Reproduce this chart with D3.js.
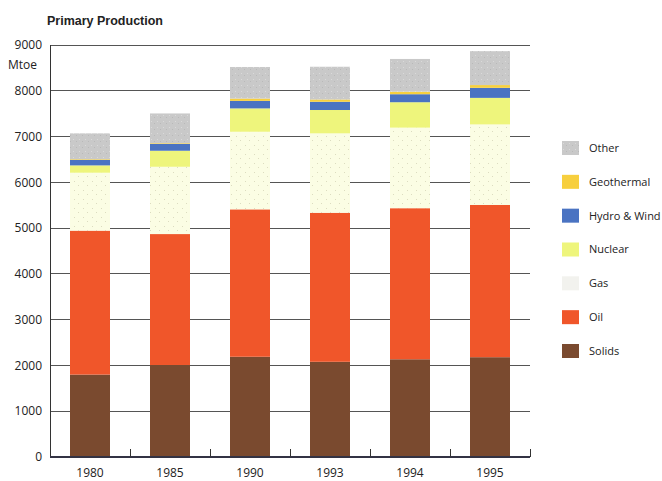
<!DOCTYPE html>
<html><head><meta charset="utf-8">
<script src="https://cdn.jsdelivr.net/npm/d3@7"></script>
<style>
html,body{margin:0;padding:0;background:#fff;}
svg{display:block;font-family:"Open Sans",sans-serif;}
</style></head>
<body><svg id="c" width="662" height="481"></svg>
<script>
const years = ["1980","1985","1990","1993","1994","1995"];
const solids = [1800, 2010, 2190, 2080, 2135, 2180];
const oil = [3145, 2860, 3220, 3255, 3300, 3325];
const gas = [1265, 1470, 1695, 1735, 1760, 1760];
const nuclear = [160, 350, 510, 510, 555, 580];
const hydroWind = [120, 150, 165, 180, 175, 220];
const geothermal = [15, 15, 50, 50, 55, 60];
const other = [565, 650, 690, 715, 715, 740];
const yTicks = [0,1000,2000,3000,4000,5000,6000,7000,8000,9000];
const seriesNames = ["Solids","Oil","Gas","Nuclear","Hydro & Wind","Geothermal","Other"];
const legendOrder = ["Other","Geothermal","Hydro & Wind","Nuclear","Gas","Oil","Solids"];

const seriesValues = [solids, oil, gas, nuclear, hydroWind, geothermal, other];
const table = years.map((yr,i)=>{
  const row = {year: yr};
  seriesNames.forEach((k,j)=> row[k] = seriesValues[j][i]);
  return row;
});

const colors = {
  "Solids":"#7a4a2f","Oil":"#f0562a","Gas":"url(#gasPat)","Nuclear":"#eef57c",
  "Hydro & Wind":"#4a73c2","Geothermal":"#f7cf3e","Other":"url(#otherPat)"
};

const svg = d3.select("#c");
const defs = svg.append("defs");
const gp = defs.append("pattern").attr("id","gasPat").attr("patternUnits","userSpaceOnUse").attr("width",9).attr("height",9);
gp.append("rect").attr("width",9).attr("height",9).attr("fill","#fbfde4");
gp.append("rect").attr("x",2).attr("y",1).attr("width",1).attr("height",1).attr("fill","#dcdcc0");
gp.append("rect").attr("x",6).attr("y",5).attr("width",1).attr("height",1).attr("fill","#dcdcc0");
const op = defs.append("pattern").attr("id","otherPat").attr("patternUnits","userSpaceOnUse").attr("width",6).attr("height",6);
op.append("rect").attr("width",6).attr("height",6).attr("fill","#c9c9c9");
op.append("rect").attr("x",1).attr("y",1).attr("width",1).attr("height",1).attr("fill","#dadada");
op.append("rect").attr("x",4).attr("y",3).attr("width",1).attr("height",1).attr("fill","#b9b9b9");

const x = d3.scaleBand().domain(years).range([50,530]).paddingInner(0.5).paddingOuter(0.25);
const y = d3.scaleLinear().domain([0,9000]).range([457,45]);

// title
svg.append("text").attr("x",47).attr("y",25).attr("font-family","Liberation Sans, Arial, sans-serif")
  .attr("font-weight","bold").attr("font-size",12.5).attr("fill","#222").text("Primary Production");
svg.append("text").attr("x",8).attr("y",69).attr("font-size",12).attr("fill","#222").text("Mtoe");

// gridlines
svg.append("g").selectAll("line").data(yTicks.filter(d=>d>0)).join("line")
  .attr("x1",50).attr("x2",530).attr("y1",d=>y(d)).attr("y2",d=>y(d))
  .attr("stroke","#555").attr("stroke-width",1).attr("shape-rendering","crispEdges");

// y labels
svg.append("g").selectAll("text").data(yTicks).join("text")
  .attr("x",42).attr("y",d=>y(d)).attr("dy","0.35em").attr("text-anchor","end")
  .attr("font-size",12).attr("fill","#222").text(d=>d);

// bars
const stack = d3.stack().keys(seriesNames)(table);
svg.append("g").selectAll("g").data(stack).join("g")
  .attr("fill",d=>colors[d.key])
  .selectAll("rect").data(d=>d).join("rect")
  .attr("x",d=>x(d.data.year)).attr("width",x.bandwidth())
  .attr("y",d=>y(d[1])).attr("height",d=>y(d[0])-y(d[1]));

// axes lines
svg.append("line").attr("x1",50).attr("x2",50).attr("y1",y(9000)).attr("y2",y(0))
  .attr("stroke","#333").attr("stroke-width",1).attr("shape-rendering","crispEdges");
svg.append("line").attr("x1",50).attr("x2",530).attr("y1",y(0)).attr("y2",y(0))
  .attr("stroke","#334").attr("stroke-width",1.2).attr("shape-rendering","crispEdges");
const step = x.step();
svg.append("g").selectAll("line").data(years).join("line")
  .attr("x1",d=>x(d)-step*0.25+step).attr("x2",d=>x(d)-step*0.25+step)
  .attr("y1",y(0)).attr("y2",y(0)-8).attr("stroke","#333").attr("shape-rendering","crispEdges");

// x labels
svg.append("g").selectAll("text").data(years).join("text")
  .attr("x",d=>x(d)+x.bandwidth()/2).attr("y",476.5).attr("text-anchor","middle")
  .attr("font-size",12).attr("fill","#222").text(d=>d);

// legend
const ly = d3.scalePoint().domain(legendOrder).range([148,351]);
const lg = svg.append("g").selectAll("g").data(legendOrder).join("g")
  .attr("transform",d=>`translate(562,${ly(d)})`);
lg.append("rect").attr("x",0).attr("y",-7).attr("width",17).attr("height",14)
  .attr("fill",d=>d==="Gas" ? "#f2f2ee" : colors[d]);
lg.append("text").attr("x",27).attr("dy","0.35em").attr("font-size",11).attr("fill","#222").text(d=>d);
</script></body></html>
